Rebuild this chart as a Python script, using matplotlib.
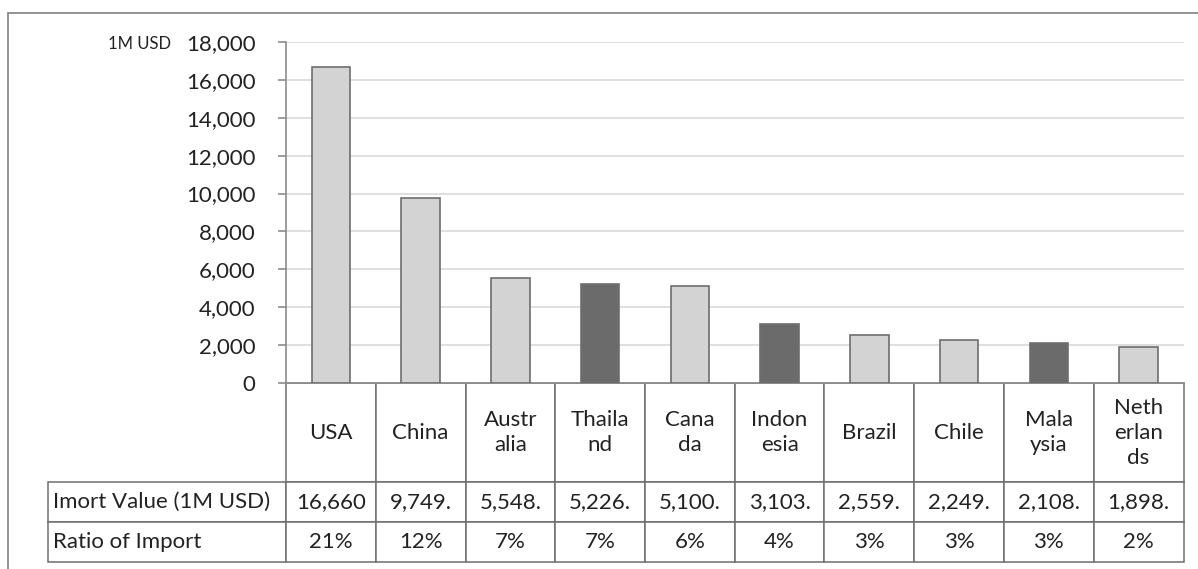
import matplotlib
matplotlib.use('Agg')
import matplotlib.pyplot as plt
from matplotlib.patches import Rectangle
from matplotlib.ticker import FuncFormatter

plt.rcParams['font.family'] = ['Lato', 'DejaVu Sans']

# %% data
countries = ['USA', 'China', 'Australia', 'Thailand', 'Canada',
             'Indonesia', 'Brazil', 'Chile', 'Malaysia', 'Netherlands']
col_labels = ['USA', 'China', 'Austr\nalia', 'Thaila\nnd', 'Cana\nda',
              'Indon\nesia', 'Brazil', 'Chile', 'Mala\nysia', 'Neth\nerlan\nds']
import_value = [16660, 9749, 5548, 5226, 5100, 3103, 2559, 2249, 2108, 1898]
import_ratio = [21, 12, 7, 7, 6, 4, 3, 3, 3, 2]
row_labels = ['Imort Value (1M USD)', 'Ratio of Import']
highlight = ['Thailand', 'Indonesia', 'Malaysia']

# %%
W, H = 1198, 569
fig = plt.figure(figsize=(W / 100, H / 100), dpi=100)
ax_l, ax_r, ax_t, ax_b = 286, 1183.5, 42, 383
ax_w, ax_h = ax_r - ax_l, ax_b - ax_t
ax = fig.add_axes([ax_l / W, 1 - ax_b / H, ax_w / W, ax_h / H])

txt = '#222222'
edge = '#6e6e6e'

x = range(len(countries))
colors = ['#6b6b6b' if c in highlight else '#d3d3d3' for c in countries]
ax.bar(x, import_value, width=0.43, color=colors, edgecolor=edge, linewidth=1.2, zorder=3)

ax.set_xlim(-0.5, len(countries) - 0.5)
ax.set_ylim(0, 18000)
ax.set_yticks(range(0, 18001, 2000))
ax.yaxis.set_major_formatter(FuncFormatter(lambda v, p: f'{v:,.0f}'))
ax.tick_params(axis='y', labelsize=16, colors='#8c8c8c', labelcolor=txt,
               direction='out', length=6, width=1.2, pad=16)
ax.set_xticks([])
ax.grid(axis='y', color='#d9d9d9', linewidth=1.2, zorder=0)
for s in ['top', 'right']:
    ax.spines[s].set_visible(False)
for s in ['left', 'bottom']:
    ax.spines[s].set_color('#8c8c8c')
    ax.spines[s].set_linewidth(1.2)

ax.text((171 - ax_l) / ax_w, 1.0 - 2 / ax_h, '1M USD', transform=ax.transAxes,
        ha='right', va='center', fontsize=12, color=txt)

# %% table under the bars, row labels kept as the first column
cell_text = [[row_labels[0]] + [f'{v:,.0f}' + ('.' if v < 10000 else '') for v in import_value],
             [row_labels[1]] + [f'{r}%' for r in import_ratio]]
lab_w = 238
tbl_top = (562 - ax_b) / ax_h
tbl = ax.table(cellText=cell_text, colLabels=[''] + col_labels, cellLoc='center',
               bbox=[(48 - ax_l) / ax_w, -tbl_top, (ax_r - 48) / ax_w, tbl_top])
tbl.auto_set_font_size(False)
for (r, c), cell in tbl.get_celld().items():
    t = cell.get_text()
    cell.set_edgecolor(edge)
    cell.set_linewidth(1.1)
    t.set_fontsize(16)
    t.set_color(txt)
    t.set_linespacing(1.3)
    cell.set_width((lab_w if c == 0 else 89.75) / ax_w)
    cell.set_height((100 if r == 0 else 40) / ax_h)
    if c == 0:
        t.set_horizontalalignment('left')
        cell.PAD = 0.022
        if r == 0:
            cell.set_linewidth(0)

# outer frame
fig.patches.append(Rectangle((8 / W, -0.02), 1.1, 1 - 12.5 / H + 0.02, transform=fig.transFigure,
                             fill=False, edgecolor='#8a8a8a', linewidth=1.3))

fig.savefig('out.png', dpi=100)
